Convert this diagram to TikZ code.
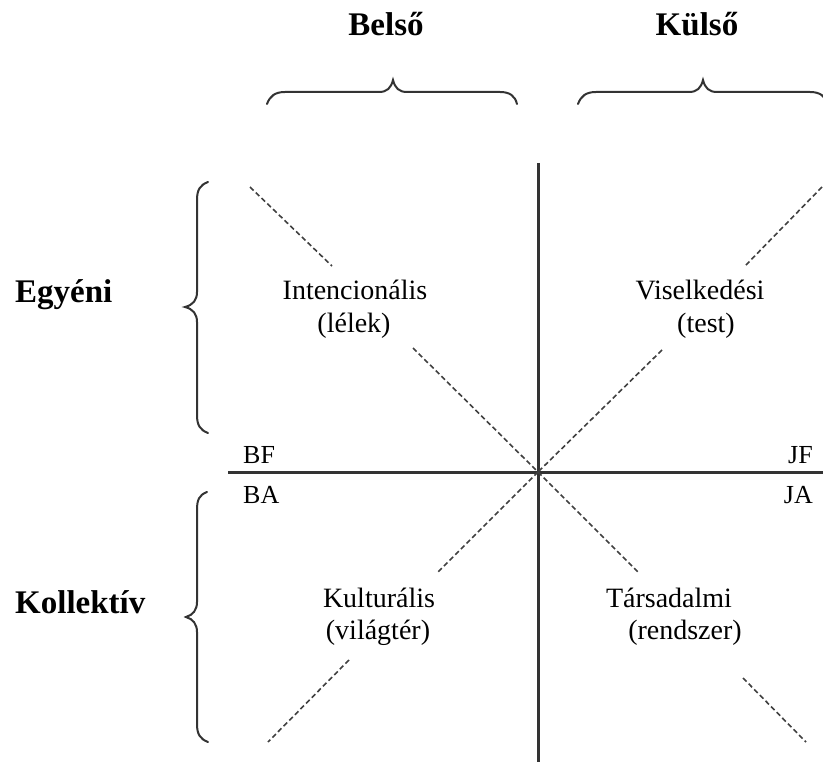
\documentclass[tikz,border=0pt]{standalone}
\usepackage{fontspec}
\setmainfont{Liberation Serif}
\begin{document}
\begin{tikzpicture}[x=1pt,y=-1pt,
  axisline/.style={line width=3pt, draw=black!80},
  diag/.style={line width=1.6pt, draw=black!75, dash pattern=on 5pt off 3pt},
  brace/.style={line width=2pt, draw=black!80, line cap=round},
  title/.style={font=\fontsize{33}{38}\selectfont\bfseries, inner sep=0pt, anchor=base},
  quad/.style={font=\fontsize{28}{32}\selectfont, inner sep=0pt, anchor=base},
  corner/.style={font=\fontsize{26}{30}\selectfont, inner sep=0pt}]
\useasboundingbox (0,0) rectangle (823,762);
\clip (0,0) rectangle (823,762);

% axes
\coordinate (c) at (538,472);
\coordinate (hl) at (228,472);
\coordinate (hr) at (823,472);
\coordinate (vt) at (538,163);
\coordinate (vb) at (538,762);
\draw[axisline] (hl) -- (hr);
\draw[axisline] (vt) -- (vb);

% dashed diagonals
\coordinate (ul1) at (250,187); \coordinate (ul2) at (332,266); \coordinate (ul3) at (413,348);
\coordinate (ur1) at (822,187); \coordinate (ur2) at (745,266); \coordinate (ur3) at (662,350);
\coordinate (ll1) at (438,572); \coordinate (ll2) at (349,660); \coordinate (ll3) at (268,742);
\coordinate (lr1) at (638,572); \coordinate (lr2) at (743,678); \coordinate (lr3) at (806,742);
\draw[diag] (ul1) -- (ul2);
\draw[diag] (ul3) -- (c);
\draw[diag] (ur1) -- (ur2);
\draw[diag] (ur3) -- (c);
\draw[diag] (c) -- (ll1);
\draw[diag] (ll2) -- (ll3);
\draw[diag] (c) -- (lr1);
\draw[diag] (lr2) -- (lr3);

% top braces
\draw[brace] (267,104) .. controls (270,96) and (275,92) .. (285,92) -- (379,92)
  .. controls (387,92) and (391,88) .. (393,80)
  .. controls (395,88) and (399,92) .. (407,92) -- (500,92)
  .. controls (510,92) and (515,96) .. (517,104);
\draw[brace] (578,104) .. controls (581,96) and (586,92) .. (596,92) -- (689,92)
  .. controls (697,92) and (701,88) .. (703,80)
  .. controls (705,88) and (709,92) .. (717,92) -- (810,92)
  .. controls (820,92) and (825,96) .. (828,104);

% left braces
\draw[brace] (208,182) .. controls (200,185) and (197,190) .. (197,200) -- (197,292)
  .. controls (197,300) and (193,305) .. (185,307)
  .. controls (193,309) and (197,314) .. (197,322) -- (197,415)
  .. controls (197,425) and (200,430) .. (208,433);
\draw[brace] (207,492) .. controls (199,495) and (197,500) .. (197,510) -- (197,602)
  .. controls (197,610) and (193,615) .. (186,617)
  .. controls (193,619) and (197,624) .. (197,632) -- (197,724)
  .. controls (197,734) and (200,739) .. (208,742);

% titles
\node[title] (belso) at (386,36) {Belső};
\node[title] (kulso) at (697,36) {Külső};
\node[title, anchor=base west] (egyeni) at (15,303) {Egyéni};
\node[title, anchor=base west] (kollektiv) at (15,613) {Kollektív};

% quadrant labels
\node[quad] (int1) at (355,300) {Intencionális};
\node[quad] (int2) at (354,333) {(lélek)};
\node[quad] (vis1) at (700,300) {Viselkedési};
\node[quad] (vis2) at (706,333) {(test)};
\node[quad] (kul1) at (379,607) {Kulturális};
\node[quad] (kul2) at (378,639) {(világtér)};
\node[quad] (tar1) at (669,607) {Társadalmi};
\node[quad] (tar2) at (685,639) {(rendszer)};

% corner labels
\node[corner, anchor=base west] (bf) at (243,463) {BF};
\node[corner, anchor=base west] (ba) at (243,503) {BA};
\node[corner, anchor=base east] (jf) at (813,463) {JF};
\node[corner, anchor=base east] (ja) at (813,503) {JA};
\end{tikzpicture}
\end{document}
